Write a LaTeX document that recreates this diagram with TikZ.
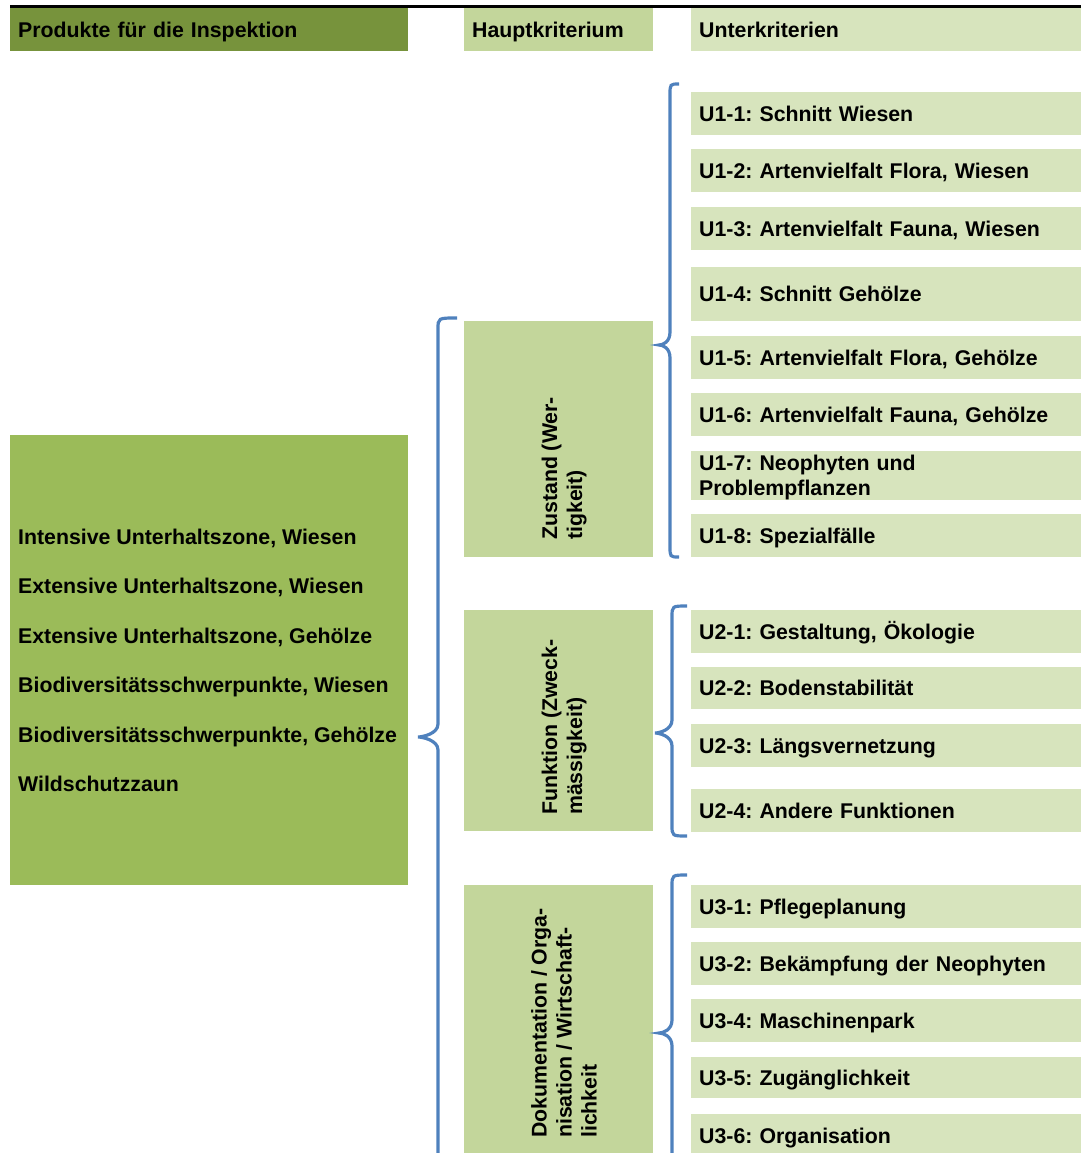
\documentclass[tikz,border=0pt]{standalone}
\usepackage{fontspec}
\setmainfont{Liberation Sans}
\usetikzlibrary{positioning}
\frenchspacing
\definecolor{headdark}{HTML}{77933C}
\definecolor{prodgreen}{HTML}{9BBB59}
\definecolor{critgreen}{HTML}{C3D69B}
\definecolor{subgreen}{HTML}{D7E4BD}
\definecolor{braceblue}{HTML}{4F81BD}
% stem x, end x, top y, tip y, bottom y, tip x
\newcommand{\curlybrace}[6]{%
  \draw[curl] (#2,#3) .. controls (#1,#3) .. (#1,#3+11) -- (#1,#4-13)
    .. controls (#1,#4-3) and (#6+4,#4) .. (#6,#4)
    .. controls (#6+4,#4) and (#1,#4+3) .. (#1,#4+13) -- (#1,#5-11)
    .. controls (#1,#5) .. (#2,#5);}

\begin{document}
\begin{tikzpicture}[x=1pt, y=-1pt,
  txt/.style={font=\fontsize{21.3}{25}\selectfont\bfseries},
  head/.style={txt, anchor=north west, inner xsep=8pt, inner ysep=0pt, minimum height=43pt,
               text height=15pt, text depth=0pt, align=left},
  sub/.style={head, fill=subgreen, text width=374pt},
  crit/.style={anchor=north west, fill=critgreen, minimum width=189pt, inner sep=0pt},
  vlbl/.style={txt, rotate=90, anchor=base west, align=left, inner sep=0pt},
  prodtxt/.style={txt, anchor=base west, inner sep=0pt},
  curl/.style={draw=braceblue, line width=3.2pt},
  topline/.style={line width=2.5pt}]
\useasboundingbox (0,0) rectangle (1081,1153);
\clip (0,0) rectangle (1081,1153);
% headers
\node[head, fill=headdark, text width=382pt] (hprod) at (10,8) {Produkte für die Inspektion};
\node[head, fill=critgreen, text width=173pt] (hcrit) at (464,8) {Hauptkriterium};
\node[head, fill=subgreen, text width=374pt] (hsub) at (691,8) {Unterkriterien};
\draw[topline] ([yshift=1.4pt]hprod.north west) -- ([yshift=1.4pt]hsub.north east);
% products
\node[anchor=north west, fill=prodgreen, minimum width=398pt, minimum height=450pt, inner sep=0pt] (prod) at (10,435) {};
\foreach \t [count=\i] in {{Intensive Unterhaltszone, Wiesen}, {Extensive Unterhaltszone, Wiesen},
    {Extensive Unterhaltszone, Gehölze}, {Biodiversitätsschwerpunkte, Wiesen},
    {Biodiversitätsschwerpunkte, Gehölze}, {Wildschutzzaun}}
  \node[prodtxt] (p\i) at (18,{544.5+49.4*(\i-1)}) {\t};
% main criteria
\node[crit, minimum height=236pt] (zust) at (464,321) {};
\node[crit, minimum height=221pt] (funk) at (464,610) {};
\node[crit, minimum height=270pt] (doku) at (464,885) {};
\node[vlbl] (lzust) at (582,540) {Zustand (Wer-\\tigkeit)};
\node[vlbl] (lfunk) at (582,815) {Funktion (Zweck-\\mässigkeit)};
\node[vlbl] (ldoku) at (596.5,1138) {Dokumentation / Orga-\\nisation / Wirtschaft-\\lichkeit};
% sub criteria
\node[sub] (u11) at (691,92) {U1-1: Schnitt Wiesen};
\node[sub] (u12) at (691,149) {U1-2: Artenvielfalt Flora, Wiesen};
\node[sub] (u13) at (691,207) {U1-3: Artenvielfalt Fauna, Wiesen};
\node[sub, minimum height=54pt] (u14) at (691,267) {U1-4: Schnitt Gehölze};
\node[sub] (u15) at (691,336) {U1-5: Artenvielfalt Flora, Gehölze};
\node[sub] (u16) at (691,393) {U1-6: Artenvielfalt Fauna, Gehölze};
\node[sub, minimum height=49pt, text depth=25pt] (u17) at (691,451) {U1-7: Neophyten und\\Problempflanzen};
\node[sub] (u18) at (691,514) {U1-8: Spezialfälle};
\node[sub] (u21) at (691,610) {U2-1: Gestaltung, Ökologie};
\node[sub, minimum height=42pt] (u22) at (691,667) {U2-2: Bodenstabilität};
\node[sub] (u23) at (691,724) {U2-3: Längsvernetzung};
\node[sub] (u24) at (691,789) {U2-4: Andere Funktionen};
\node[sub] (u31) at (691,885) {U3-1: Pflegeplanung};
\node[sub] (u32) at (691,942) {U3-2: Bekämpfung der Neophyten};
\node[sub] (u34) at (691,999) {U3-4: Maschinenpark};
\node[sub, minimum height=41pt] (u35) at (691,1057) {U3-5: Zugänglichkeit};
\node[sub] (u36) at (691,1114) {U3-6: Organisation};
% braces
\curlybrace{438}{457}{318}{737}{1200}{418}
\curlybrace{670}{679}{84}{345}{557}{659}
\curlybrace{672}{687}{606}{733}{836}{655}
\curlybrace{672}{687}{875}{1033}{1200}{659}
\end{tikzpicture}
\end{document}
